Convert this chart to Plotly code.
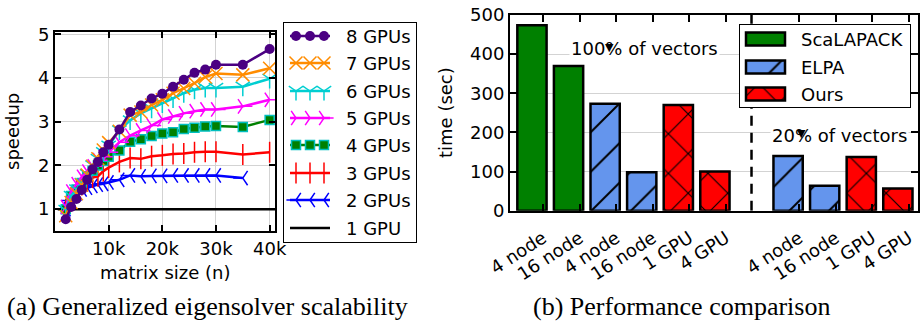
import plotly.graph_objects as go

W, H = 921, 326

# ---------------- Left chart data (speedup vs matrix size) ----------------
matrix_k = [2, 3, 4, 5, 6, 7, 8, 9, 10, 12, 14, 16, 18, 20, 22, 24, 26, 28, 30, 35, 40]
matrix_n = [v * 1000 for v in matrix_k]
speedup_8 = [0.77, 1.05, 1.23, 1.44, 1.67, 1.91, 2.08, 2.30, 2.47, 2.82, 3.22, 3.37, 3.53, 3.64, 3.80, 3.96, 4.12, 4.19, 4.30, 4.30, 4.66]
speedup_7 = [0.85, 1.15, 1.35, 1.55, 1.78, 1.98, 2.15, 2.35, 2.52, 2.78, 3.15, 3.22, 3.38, 3.50, 3.65, 3.76, 3.88, 4.02, 4.10, 4.07, 4.22]
speedup_6 = [0.98, 1.30, 1.45, 1.60, 1.80, 2.00, 2.15, 2.30, 2.45, 2.80, 3.03, 3.19, 3.30, 3.42, 3.53, 3.65, 3.73, 3.77, 3.77, 3.80, 3.98]
speedup_5 = [1.05, 1.40, 1.57, 1.74, 1.86, 1.98, 2.12, 2.20, 2.30, 2.53, 2.68, 2.80, 2.91, 3.05, 3.12, 3.19, 3.24, 3.28, 3.28, 3.35, 3.50]
speedup_4 = [1.00, 1.30, 1.45, 1.60, 1.75, 1.88, 2.00, 2.10, 2.20, 2.34, 2.54, 2.60, 2.67, 2.73, 2.76, 2.83, 2.86, 2.89, 2.90, 2.88, 3.04]
speedup_3 = [1.00, 1.26, 1.45, 1.55, 1.64, 1.72, 1.75, 1.87, 1.95, 2.08, 2.17, 2.15, 2.21, 2.23, 2.26, 2.27, 2.30, 2.31, 2.31, 2.25, 2.30]
matrix_n_2gpu = [1000] + matrix_n[:-1]
speedup_2 = [1.00, 1.00, 1.20, 1.35, 1.45, 1.49, 1.53, 1.56, 1.58, 1.61, 1.67, 1.77, 1.75, 1.76, 1.76, 1.77, 1.77, 1.77, 1.77, 1.77, 1.71]
matrix_n_1gpu = [500, 41000]
speedup_1 = [1.0, 1.0]

x_tick_vals = [10000, 20000, 30000, 40000]
x_tick_text = ["10k", "20k", "30k", "40k"]
y_tick_vals = [1, 2, 3, 4, 5]

# ---------------- Right chart data (time comparison) ----------------
bar_labels = ["4 node", "16 node", "4 node", "16 node", "1 GPU", "4 GPU",
              "4 node", "16 node", "1 GPU", "4 GPU"]
bar_positions = [0, 1, 2, 3, 4, 5, 7, 8, 9, 10]
scalapack_pos = [0, 1]
scalapack_time = [474, 370]
elpa_pos = [2, 3, 7, 8]
elpa_time = [273, 98, 140, 64]
ours_pos = [4, 5, 9, 10]
ours_time = [270, 100, 137, 57]
time_ticks = [0, 100, 200, 300, 400, 500]

FONT = "DejaVu Sans"
fig = go.Figure()


def dom_x(a, b):
    return [a / W, b / W]


def dom_y(top, bottom):
    return [1 - bottom / H, 1 - top / H]


# ---------------- Left series styles ----------------
series = [
    ("8 GPUs", matrix_n, speedup_8, "#4B0082", dict(symbol="circle", size=10, line=dict(width=0))),
    ("7 GPUs", matrix_n, speedup_7, "#FF8C00", dict(symbol="x-thin-open", size=13, line=dict(width=1.5, color="#FF8C00"))),
    ("6 GPUs", matrix_n, speedup_6, "#00CED1", dict(symbol="y-down-open", size=12, line=dict(width=1.5, color="#00CED1"))),
    ("5 GPUs", matrix_n, speedup_5, "#FF00FF", dict(symbol="y-right-open", size=12, line=dict(width=1.5, color="#FF00FF"))),
    ("4 GPUs", matrix_n, speedup_4, "#008000", dict(symbol="square", size=9, line=dict(width=1.5, color="#00BFBF"))),
    ("3 GPUs", matrix_n, speedup_3, "#FF0000", dict(symbol="line-ns-open", size=15, line=dict(width=1.5, color="#FF0000"))),
    ("2 GPUs", matrix_n_2gpu, speedup_2, "#0000FF", dict(symbol="y-left-open", size=12, line=dict(width=1.5, color="#0000FF"))),
]

fig.add_trace(go.Scatter(x=matrix_n_1gpu, y=speedup_1, mode="lines",
                         line=dict(color="black", width=2.5), xaxis="x", yaxis="y"))
for name, xs, ys, col, mk in reversed(series):
    fig.add_trace(go.Scatter(x=xs, y=ys, mode="lines+markers", name=name,
                             line=dict(color=col, width=2.5),
                             marker=dict(color=col, **mk), xaxis="x", yaxis="y"))

# ---------------- Left legend (manual, own axes) ----------------
LW, LH = 134, 221
fig.add_trace(go.Scatter(x=[0, LW, LW, 0, 0], y=[0, 0, LH, LH, 0], mode="lines", fill="toself",
                         fillcolor="white", line=dict(color="black", width=2),
                         xaxis="x4", yaxis="y4", hoverinfo="skip"))
leg_rows = [14, 41, 69, 96, 123, 151, 178, 206]
legend_items = series + [("1 GPU", None, None, "black", None)]
annotations = []
for (name, _, _, col, mk), ry in zip(legend_items, leg_rows):
    fig.add_trace(go.Scatter(x=[7, 47], y=[ry, ry], mode="lines",
                             line=dict(color=col, width=2.5), xaxis="x4", yaxis="y4", hoverinfo="skip"))
    if mk is not None:
        fig.add_trace(go.Scatter(x=[13, 27, 41], y=[ry, ry, ry], mode="markers",
                                 marker=dict(color=col, **mk), xaxis="x4", yaxis="y4", hoverinfo="skip"))
    annotations.append(dict(x=61, y=ry, xref="x4", yref="y4", text=name, showarrow=False,
                            xanchor="left", yanchor="middle", font=dict(size=18, family=FONT, color="black")))

# ---------------- Right chart bars ----------------
common_line = dict(color="black", width=2.5)
fig.add_trace(go.Scatter(x=[6, 6], y=[0, 500], mode="lines",
                         line=dict(color="black", width=2.5, dash="10px,7px"),
                         xaxis="x2", yaxis="y2", hoverinfo="skip"))
fig.add_trace(go.Bar(x=scalapack_pos, y=scalapack_time, width=0.8, name="ScaLAPACK",
                     marker=dict(color="#008000", line=common_line), xaxis="x2", yaxis="y2"))
elpa_pattern = dict(shape="/", fillmode="overlay", fgcolor="black", fgopacity=1, size=28, solidity=0.07)
ours_pattern = dict(shape="x", fillmode="overlay", fgcolor="black", fgopacity=1, size=28, solidity=0.08)
fig.add_trace(go.Bar(x=elpa_pos, y=elpa_time, width=0.8, name="ELPA",
                     marker=dict(color="#6495ED", line=common_line, pattern=elpa_pattern),
                     xaxis="x2", yaxis="y2"))
fig.add_trace(go.Bar(x=ours_pos, y=ours_time, width=0.8, name="Ours",
                     marker=dict(color="#FF0000", line=common_line, pattern=ours_pattern),
                     xaxis="x2", yaxis="y2"))

# ---------------- Right legend (manual, own axes) ----------------
RW, RH = 172, 84
fig.add_trace(go.Bar(x=[RW], y=[RH / 2], base=[0], orientation="h", width=RH,
                     marker=dict(color="white", line=dict(color="black", width=2)),
                     xaxis="x3", yaxis="y3", hoverinfo="skip"))
r_rows = [15, 43, 70]
r_items = [("ScaLAPACK", "#008000", None), ("ELPA", "#6495ED", elpa_pattern), ("Ours", "#FF0000", ours_pattern)]
for (name, col, pat), ry in zip(r_items, r_rows):
    mk = dict(color=col, line=dict(color="black", width=2.5))
    if pat is not None:
        mk["pattern"] = pat
    fig.add_trace(go.Bar(x=[39], y=[ry], base=[7], orientation="h", width=13, marker=mk,
                         xaxis="x3", yaxis="y3", hoverinfo="skip"))
    annotations.append(dict(x=60, y=ry, xref="x3", yref="y3", text=name, showarrow=False,
                            xanchor="left", yanchor="middle", font=dict(size=18, family=FONT, color="black")))

# ---------------- Text annotations ----------------
def center_note(x, y, text, size=18, family=FONT, angle=0, xref="paper", yref="paper", bg=None):
    d = dict(x=x, y=y, xref=xref, yref=yref, text=text, showarrow=False, textangle=angle,
             xanchor="center", yanchor="middle", font=dict(size=size, family=family, color="black"))
    if bg:
        d["bgcolor"] = bg
    return d


annotations += [
    center_note(3.08, 415, "100% of vectors", xref="x2", yref="y2", bg="white"),
    center_note(8.4, 191, "20% of vectors", xref="x2", yref="y2", bg="white"),
    center_note(2.12, 418, "▼", size=11, xref="x2", yref="y2"),
    center_note(7.37, 198, "▼", size=11, xref="x2", yref="y2"),
    center_note(12 / W, 1 - 132 / H, "speedup", angle=-90),
    center_note(165 / W, 1 - 272 / H, "matrix size (n)"),
    center_note(445 / W, 1 - 113 / H, "time (sec)", angle=-90),
    center_note(207 / W, 1 - 306 / H, "(a) Generalized eigensolver scalability", size=26, family="Liberation Serif"),
    center_note(681 / W, 1 - 306 / H, "(b) Performance comparison", size=26, family="Liberation Serif"),
]

axis_common = dict(showline=True, linewidth=2, linecolor="black", mirror="allticks",
                   ticks="inside", tickwidth=1.5, tickcolor="black", zeroline=False,
                   gridcolor="#d3d3d3", gridwidth=1, automargin=False,
                   tickfont=dict(size=18, family=FONT, color="black"))
hidden = dict(visible=False, showgrid=False, zeroline=False, fixedrange=True, automargin=False)

fig.update_layout(
    width=W, height=H, margin=dict(l=0, r=0, t=0, b=0, autoexpand=False),
    paper_bgcolor="white", plot_bgcolor="white", showlegend=False,
    font=dict(family=FONT, size=18, color="black"),
    barmode="overlay",
    xaxis=dict(domain=dom_x(55, 275), range=[0, 41000], tickvals=x_tick_vals, ticktext=x_tick_text,
               ticklen=6, showgrid=True, anchor="y", **axis_common),
    yaxis=dict(domain=dom_y(32, 231), range=[0.5, 5.05], tickvals=y_tick_vals, ticklen=6,
               showgrid=True, anchor="x", **axis_common),
    xaxis2=dict(domain=dom_x(510, 918), range=[-0.6, 10.55],
                tickvals=[p + 0.3 for p in bar_positions], ticktext=bar_labels, tickangle=-33,
                ticklen=7, ticklabelstandoff=8, showgrid=False, anchor="y2", **axis_common),
    yaxis2=dict(domain=dom_y(15, 210.7), range=[0, 500], tickvals=time_ticks, ticklen=7,
                showgrid=True, anchor="x2", **axis_common),
    xaxis3=dict(domain=dom_x(739, 911), range=[0, RW], anchor="y3", **hidden),
    yaxis3=dict(domain=dom_y(24, 108), range=[RH, 0], anchor="x3", **hidden),
    xaxis4=dict(domain=dom_x(283, 417), range=[0, LW], anchor="y4", **hidden),
    yaxis4=dict(domain=dom_y(22, 243), range=[LH, 0], anchor="x4", **hidden),
    annotations=annotations,
)

fig.write_html("out.html", config={"displayModeBar": False},
               post_script="document.body.style.margin='0px';")
